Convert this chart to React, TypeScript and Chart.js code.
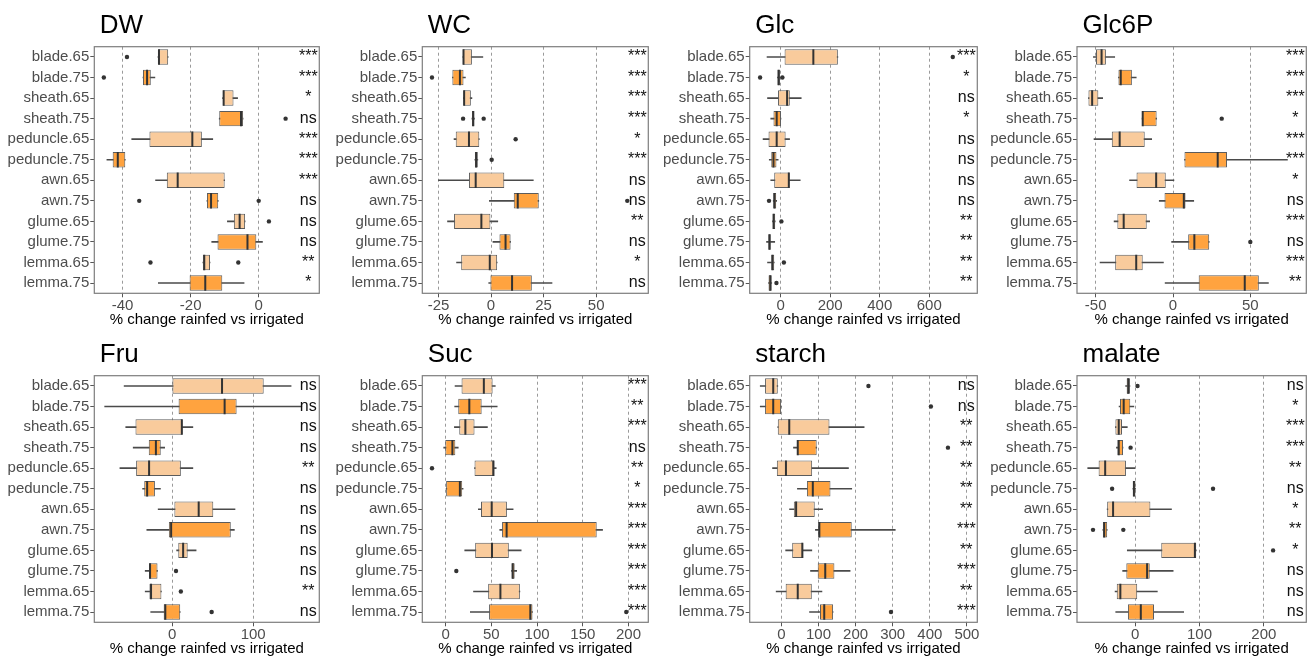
import React, { useEffect, useRef } from 'react';
import { Chart, registerables } from 'chart.js';

Chart.register(...registerables);
Chart.defaults.font.family = '"Liberation Sans", Arial, Helvetica, sans-serif';

const CATEGORIES = [
  'blade.65', 'blade.75', 'sheath.65', 'sheath.75', 'peduncle.65', 'peduncle.75',
  'awn.65', 'awn.75', 'glume.65', 'glume.75', 'lemma.65', 'lemma.75',
];
const X_TITLE = '% change rainfed vs irrigated';

// Each row: [lower whisker, Q1, median, Q3, upper whisker]
const dwStats = [
  [-29.6, -29.5, -29.3, -26.6, -26.6], [-34.0, -34.0, -32.8, -31.7, -30.5],
  [-10.6, -10.5, -10.3, -7.4, -6.2], [-11.6, -11.6, -5.2, -4.6, -4.6],
  [-37.3, -32.1, -19.5, -16.7, -13.5], [-44.6, -42.9, -41.4, -39.2, -39.2],
  [-30.3, -27.0, -23.8, -10.0, -10.0], [-15.2, -15.2, -14.0, -11.9, -11.9],
  [-9.2, -7.3, -5.6, -4.0, -4.0], [-13.8, -12.1, -3.3, -0.7, 1.1],
  [-16.4, -16.4, -16.0, -14.3, -14.3], [-29.5, -20.3, -15.7, -10.7, -4.3],
];
const dwOutliers = [[0, -38.7], [1, -45.5], [3, 7.9], [7, -35.1], [7, 0], [8, 3.0], [10, -31.8], [10, -6.0]];
const dwSig = ['***', '***', '*', 'ns', '***', '***', '***', 'ns', 'ns', 'ns', '**', '*'];
const dwTicks = [-40, -20, 0];
const dwRange = [-48.3, 17.8];

const wcStats = [
  [-13.4, -13.4, -13.1, -9.1, -3.9], [-18.4, -18.4, -14.8, -13.1, -12.2],
  [-13.1, -13.1, -12.8, -9.6, -9.1], [-9.1, -9.1, -8.5, -7.9, -7.9],
  [-17.6, -16.8, -10.5, -5.6, -5.6], [-7.7, -7.7, -7.1, -6.3, -6.3],
  [-25.0, -10.5, -7.3, 6.3, 20.1], [-0.8, 10.8, 12.7, 22.7, 22.7],
  [-20.7, -17.6, -4.6, -0.3, 3.2], [0.9, 4.0, 6.9, 9.3, 9.3],
  [-16.4, -14.2, -0.6, 2.9, 2.9], [-1.1, -0.3, 10.0, 19.4, 29.0],
];
const wcOutliers = [[1, -28.1], [3, -13.3], [3, -3.5], [4, 11.7], [5, 0.3], [7, 64.8]];
const wcSig = ['***', '***', '***', '***', '*', '***', 'ns', 'ns', '**', 'ns', '*', 'ns'];
const wcTicks = [-25, 0, 25, 50];
const wcRange = [-32.7, 74.8];

const glcStats = [
  [-55, 15.8, 132, 231, 231], [-13, -13, -8, -3, -3],
  [-53, -10.6, 26, 37, 83], [-40, -29, -16, 1.3, 1.3],
  [-71, -49, -16, 20, 36], [-46, -38, -29, -17, -10],
  [-40, -26, 33, 36, 79], [-30, -30, -25, -18, -16],
  [-33, -33, -28, -22, -22], [-57, -50, -45, -40, -24],
  [-53, -38, -33, -26, -26], [-49, -49, -42, -36, -36],
];
const glcOutliers = [[0, 695], [1, -83], [1, 7], [7, -47], [8, 3], [10, 13], [11, -17]];
const glcSig = ['***', '*', 'ns', '*', 'ns', 'ns', 'ns', 'ns', '**', '**', '**', '**'];
const glcTicks = [0, 200, 400, 600];
const glcRange = [-125, 794];

const g6pStats = [
  [-51.5, -49.8, -46.2, -43.4, -37.7], [-35.3, -35.3, -33.8, -26.6, -23.8],
  [-54.7, -54.7, -52.3, -48.3, -45.5], [-20.0, -20.0, -19.6, -10.6, -10.6],
  [-51.1, -39.6, -34.5, -18.3, -13.8], [7.4, 7.4, 28.9, 34.9, 74.0],
  [-28.1, -23.6, -10.9, -4.7, 0.6], [-8.9, -5.5, 7.0, 8.1, 13.4],
  [-38.1, -36.0, -31.9, -17.0, -15.1], [-0.9, 9.8, 13.8, 23.4, 23.4],
  [-47.2, -37.4, -23.8, -19.6, -6.2], [-5.1, 16.6, 46.4, 55.5, 61.7],
];
const g6pOutliers = [[3, 31.5], [9, 50]];
const g6pSig = ['***', '***', '***', '*', '***', '***', '*', 'ns', '***', 'ns', '***', '**'];
const g6pTicks = [-50, 0, 50];
const g6pRange = [-62.1, 86.2];

const fruStats = [
  [-59.2, 0.4, 61.6, 113, 146.8], [-83.2, 8, 64.8, 79.6, 160],
  [-57.2, -45.2, 12, 12.8, 25.6], [-48, -28.8, -20, -14, -9.2],
  [-64.4, -44.4, -28.4, 10.8, 25.6], [-36.4, -34.4, -30.8, -21.2, -14.4],
  [-17.2, 2.8, 32.8, 50.8, 77.6], [-31.2, -4, -1.2, 72.4, 76.8],
  [5.6, 7.6, 13.6, 19.2, 29.6], [-33.2, -28.4, -27.2, -18, -18],
  [-33.2, -28, -26, -13.2, -13.2], [-26.4, -10.4, -8.4, 10, 10],
];
const fruOutliers = [[9, 4.8], [10, 10.8], [11, 48.8]];
const fruSig = ['ns', 'ns', 'ns', 'ns', '**', 'ns', 'ns', 'ns', 'ns', 'ns', '**', 'ns'];
const fruTicks = [0, 100];
const fruRange = [-96, 181.6];

const sucStats = [
  [10.3, 17.4, 41.8, 51.4, 54.3], [9.9, 13.8, 25.9, 39.4, 56.4],
  [9.6, 14.9, 21.6, 31.6, 45.7], [-2.1, -0.4, 7.4, 10.6, 13.8],
  [31.6, 31.6, 52.1, 53.5, 55.3], [0, 0, 15.6, 18.1, 19.1],
  [35.8, 38.7, 50.4, 67.0, 73.8], [59.2, 61.7, 66.7, 165.2, 171.6],
  [20.9, 32.3, 50.7, 69.1, 82.6], [72, 72, 73.4, 75.5, 77.7],
  [30.5, 46.5, 59.9, 81.2, 81.2], [27, 47.5, 92.6, 95, 95],
];
const sucOutliers = [[4, -14.9], [9, 11.7], [11, 197.5]];
const sucSig = ['***', '**', '***', 'ns', '**', '*', '***', '***', '***', '***', '***', '***'];
const sucTicks = [0, 50, 100, 150, 200];
const sucRange = [-25.5, 221.6];

const starchStats = [
  [-57, -44, -22, -9.7, -9.7], [-57, -44, -22, -0.9, -0.9],
  [-9.7, -9.7, 21.2, 129.6, 223], [32.6, 42.3, 44.1, 95.2, 95.2],
  [-23.8, -12.3, 12.3, 82.9, 180.8], [43.2, 68.8, 84.7, 132.3, 189.6],
  [22, 33.5, 39.7, 89.9, 111], [91.7, 99.6, 102.3, 189.6, 306.9],
  [11.5, 29.1, 56.4, 59.1, 82], [78.5, 97.9, 118.2, 142.9, 185.2],
  [-14.1, 11.5, 44.1, 82, 109.3], [75.8, 104.1, 115.5, 139.3, 139.3],
];
const starchOutliers = [[0, 234.6], [1, 403], [3, 448.9], [11, 295.4]];
const starchSig = ['ns', 'ns', '**', '**', '**', '**', '**', '***', '**', '***', '**', '***'];
const starchTicks = [0, 100, 200, 300, 400, 500];
const starchRange = [-85.4, 528];

const malateStats = [
  [-14.9, -13.3, -10.8, -8.2, -8.2], [-25.1, -23.6, -17.9, -7.7, -2.1],
  [-30.8, -30.8, -25.6, -20.5, -12.3], [-29.2, -27.7, -25.6, -19, -19],
  [-73.8, -56.9, -46.7, -14.4, -0.5], [-3.6, -3.6, -2, 0.5, 0.5],
  [-43.6, -43.6, -34.4, 23.6, 56.4], [-50.3, -50.3, -48.2, -43.6, -43.6],
  [-12.3, 40.5, 92.8, 94.9, 94.9], [-19.5, -13.8, 18.5, 22.6, 59],
  [-31.3, -28.7, -23.1, 3.1, 34.4], [-30.3, -11.3, 8.7, 29.2, 75.4],
];
const malateOutliers = [[0, 3.6], [3, -7.2], [5, -35.9], [5, 121], [7, -65.6], [7, -18.5], [8, 214.4]];
const malateSig = ['ns', '*', '***', '***', '**', 'ns', '*', '**', '*', 'ns', 'ns', 'ns'];
const malateTicks = [0, 100, 200];
const malateRange = [-90.5, 266];

type PanelDef = {
  title: string; stats: number[][]; outliers: number[][]; sig: string[]; ticks: number[]; range: number[];
};

const PANELS: PanelDef[] = [
  { title: 'DW', stats: dwStats, outliers: dwOutliers, sig: dwSig, ticks: dwTicks, range: dwRange },
  { title: 'WC', stats: wcStats, outliers: wcOutliers, sig: wcSig, ticks: wcTicks, range: wcRange },
  { title: 'Glc', stats: glcStats, outliers: glcOutliers, sig: glcSig, ticks: glcTicks, range: glcRange },
  { title: 'Glc6P', stats: g6pStats, outliers: g6pOutliers, sig: g6pSig, ticks: g6pTicks, range: g6pRange },
  { title: 'Fru', stats: fruStats, outliers: fruOutliers, sig: fruSig, ticks: fruTicks, range: fruRange },
  { title: 'Suc', stats: sucStats, outliers: sucOutliers, sig: sucSig, ticks: sucTicks, range: sucRange },
  { title: 'starch', stats: starchStats, outliers: starchOutliers, sig: starchSig, ticks: starchTicks, range: starchRange },
  { title: 'malate', stats: malateStats, outliers: malateOutliers, sig: malateSig, ticks: malateTicks, range: malateRange },
];

// layout (pixels)
const CELL = 329;
const PLOT_LEFT = [94.3, 93.3, 91.7, 90];
const PLOT_RIGHT = [325.7, 325.7, 324, 322.3];
const PLOT_TOP = 46.7;
const PLOT_BOTTOM = 293.3;
const AXIS_W = 88;

const FILL_65 = '#F9CB9C';
const FILL_75 = '#FFA33F';
const FONT = '"Liberation Sans", Arial, Helvetica, sans-serif';

const decorPlugin = {
  id: 'panelDecor',
  afterDatasetsDraw(chart: any, _args: any, opts: any) {
    const { ctx, chartArea } = chart;
    const yScale = chart.scales.y;
    ctx.save();
    ctx.font = `16px ${FONT}`;
    ctx.fillStyle = '#111111';
    ctx.textAlign = 'center';
    ctx.textBaseline = 'middle';
    (opts.sig as string[]).forEach((s, i) => {
      ctx.fillText(s, chartArea.right - 11, yScale.getPixelForValue(i));
    });
    ctx.restore();
  },
  afterDraw(chart: any, _args: any, opts: any) {
    const { ctx, chartArea } = chart;
    ctx.save();
    ctx.strokeStyle = '#7d7d7d';
    ctx.lineWidth = 1.2;
    ctx.strokeRect(chartArea.left, chartArea.top, chartArea.right - chartArea.left, chartArea.bottom - chartArea.top);
    ctx.font = `26px ${FONT}`;
    ctx.fillStyle = '#000000';
    ctx.textAlign = 'left';
    ctx.textBaseline = 'alphabetic';
    ctx.fillText(opts.title, chartArea.left + 5.5, 32.5);
    ctx.restore();
  },
};

function Panel({ p, col, row }: { p: PanelDef; col: number; row: number }) {
  const ref = useRef<HTMLCanvasElement>(null);
  useEffect(() => {
    const canvas = ref.current;
    if (!canvas) return;
    const band = (PLOT_BOTTOM - PLOT_TOP) / CATEGORIES.length;
    const chart = new Chart(canvas, {
      type: 'bar',
      data: {
        labels: CATEGORIES,
        datasets: [
          {
            type: 'bar', label: 'whisker', indexAxis: 'y',
            data: p.stats.map((s) => [s[0], s[4]]),
            backgroundColor: '#4a4a4a', borderWidth: 0, barThickness: 1, grouped: false, order: 3,
          } as any,
          {
            type: 'bar', label: 'box', indexAxis: 'y',
            data: p.stats.map((s) => [s[1], s[3]]),
            backgroundColor: CATEGORIES.map((c) => (c.endsWith('.65') ? FILL_65 : FILL_75)),
            borderColor: '#5c5c5c', borderWidth: 1, borderSkipped: false,
            barPercentage: 0.75, categoryPercentage: 1, grouped: false, order: 2,
          } as any,
          {
            type: 'scatter', label: 'median',
            data: p.stats.map((s, i) => ({ x: s[2], y: CATEGORIES[i] })),
            pointStyle: 'line', pointRotation: 90, pointRadius: band * 0.375, pointHoverRadius: band * 0.375,
            pointBorderColor: '#333333', pointBorderWidth: 2, order: 1,
          } as any,
          {
            type: 'scatter', label: 'outliers',
            data: p.outliers.map(([i, v]) => ({ x: v, y: CATEGORIES[i] })),
            pointStyle: 'circle', pointRadius: 2.2, pointHoverRadius: 2.2,
            pointBackgroundColor: '#333333', pointBorderWidth: 0, order: 0,
          } as any,
        ],
      },
      options: {
        responsive: false,
        animation: false,
        devicePixelRatio: 1,
        indexAxis: 'y',
        events: [],
        layout: {
          padding: { top: PLOT_TOP, left: PLOT_LEFT[col] - AXIS_W, right: CELL - PLOT_RIGHT[col], bottom: 0 },
        },
        plugins: {
          legend: { display: false },
          tooltip: { enabled: false },
          title: { display: false },
          panelDecor: { title: p.title, sig: p.sig },
        } as any,
        scales: {
          x: {
            type: 'linear',
            min: p.range[0],
            max: p.range[1],
            afterBuildTicks: (s: any) => { s.ticks = p.ticks.map((v) => ({ value: v })); },
            afterFit: (s: any) => { s.height = CELL - PLOT_BOTTOM; },
            grid: { color: '#9a9a9a', lineWidth: 1, drawTicks: true, tickLength: 4, tickColor: '#555555', tickWidth: 1 },
            border: { display: false, dash: [3, 3] },
            ticks: { color: '#4d4d4d', font: { size: 15 }, padding: 0, maxRotation: 0, autoSkip: false },
            title: { display: true, text: X_TITLE, color: '#000000', font: { size: 15, lineHeight: 1.2 }, padding: { top: 0, bottom: 0 } },
          },
          y: {
            type: 'category',
            offset: true,
            afterFit: (s: any) => { s.width = AXIS_W; },
            grid: { offset: false, drawOnChartArea: false, drawTicks: true, tickLength: 4, color: '#555555', tickColor: '#555555' },
            border: { display: false },
            ticks: { color: '#4d4d4d', font: { size: 15 }, padding: 1, autoSkip: false },
          },
        } as any,
      } as any,
      plugins: [decorPlugin as any],
    });
    return () => chart.destroy();
  }, [p, col, row]);
  return (
    <canvas
      ref={ref}
      width={CELL}
      height={CELL}
      style={{ position: 'absolute', left: col * CELL, top: row * CELL, width: CELL, height: CELL }}
    />
  );
}

export default function App() {
  return (
    <div style={{ position: 'absolute', left: 0, top: 0, width: 1316, height: 658, background: '#ffffff' }}>
      {PANELS.map((p, idx) => (
        <Panel key={p.title} p={p} col={idx % 4} row={Math.floor(idx / 4)} />
      ))}
    </div>
  );
}
